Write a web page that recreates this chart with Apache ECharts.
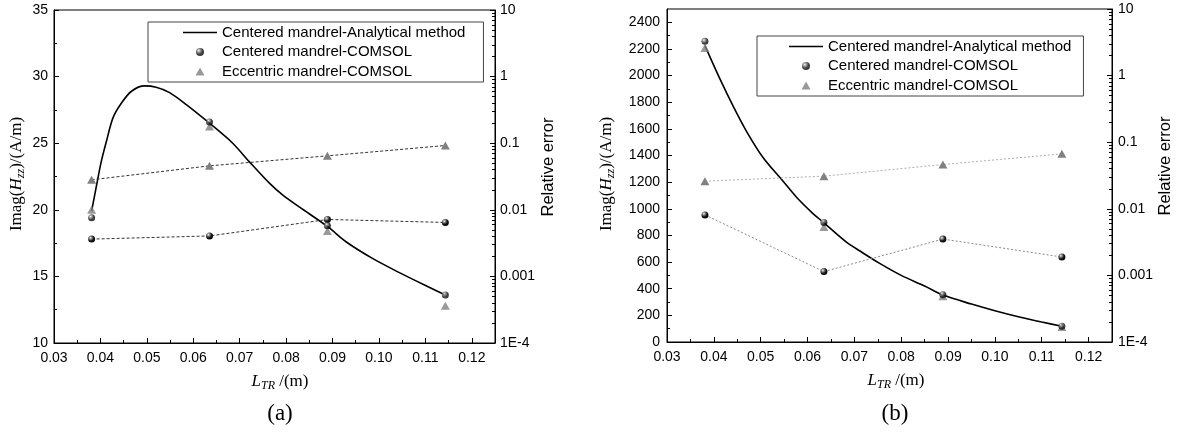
<!DOCTYPE html>
<html><head><meta charset="utf-8">
<script src="https://cdn.jsdelivr.net/npm/echarts@6/dist/echarts.min.js"></script>
<style>html,body{margin:0;padding:0;background:#fff}#c{width:1177px;height:433px}</style>
</head><body><div id="c"></div>
<script>
const SANS = 'Liberation Sans, Arial, sans-serif';
const SERIF = 'Liberation Serif, Times New Roman, serif';

// ---------- data ----------
const seriesNames = ['Centered mandrel-Analytical method', 'Centered mandrel-COMSOL', 'Eccentric mandrel-COMSOL'];
const xPoints = [0.0381, 0.0635, 0.0889, 0.1143];
const xTickValues = [0.03, 0.04, 0.05, 0.06, 0.07, 0.08, 0.09, 0.10, 0.11, 0.12];
const xMinorValues = [0.035, 0.045, 0.055, 0.065, 0.075, 0.085, 0.095, 0.105, 0.115];
const logTickLabels = ['1E-4', '0.001', '0.01', '0.1', '1', '10'];

// (a)
const aCurveX = [0.0381,0.0392,0.0402,0.0413,0.0427,0.0445,0.0467,0.0495,0.0520,0.0549,0.0585,0.0635,0.0685,0.0721,0.0764,0.0793,0.0829,0.0889,0.0929,0.0986,0.1043,0.1107,0.1143];
const aCurveY = [19.9,21.9,23.65,25.15,26.9,28.0,28.9,29.3,29.2,28.8,27.9,26.5,25.0,23.6,22.0,21.1,20.2,18.75,17.6,16.35,15.3,14.2,13.6];
const aCenteredVal = [19.4, 26.6, 18.8, 13.6];
const aEccentricVal = [20.0, 26.25, 18.4, 12.8];
const aCenteredErr = [0.00363, 0.00405, 0.00716, 0.00646];
const aEccentricErr = [0.0282, 0.0457, 0.0646, 0.0923];
const aYTicks = [10, 15, 20, 25, 30, 35];
const aYMinor = [12.5, 17.5, 22.5, 27.5, 32.5];

// (b)
const bCurveX = [0.0381,0.0413,0.0442,0.0470,0.0505,0.0547,0.0577,0.0610,0.0635,0.0683,0.0711,0.0754,0.0800,0.0850,0.0889,0.0950,0.1000,0.1050,0.1100,0.1143];
const bCurveY = [2225,1975,1765,1580,1385,1210,1085,970,895,750,685,590,500,420,352,285,235,190,150,118];
const bCenteredVal = [2257, 898, 355, 118];
const bEccentricVal = [2207, 863, 343, 113];
const bCenteredErr = [0.0081, 0.00114, 0.00351, 0.00189];
const bEccentricErr = [0.026, 0.0309, 0.0462, 0.0668];
const bYTicks = [0,200,400,600,800,1000,1200,1400,1600,1800,2000,2200,2400];
const bYMinor = [100,300,500,700,900,1100,1300,1500,1700,1900,2100,2300];

// log minor tick positions (in log10 space)
const logMinor = [];
for (let n = -4; n < 1; n++) for (let k = 2; k <= 9; k++) logMinor.push(n + Math.log10(k));

const pairs = (xs, ys) => xs.map((x, i) => [x, ys[i]]);

const ball = {type:'radial', x:0.35, y:0.32, r:0.75, colorStops:[
  {offset:0, color:'#f4f4f4'}, {offset:0.25, color:'#8a8a8a'}, {offset:0.6, color:'#151515'}, {offset:1, color:'#000'}]};
const triColor = '#808080';

const grids = [
  {left:54, top:10, width:441, height:333},
  {left:667, top:9, width:445, height:333}
];

function mainX(gi) {
  return {type:'value', gridIndex:gi, min:0.03, max:0.125,
    axisLine:{show:true, onZero:false, lineStyle:{color:'#000', width:1}},
    axisTick:{show:true, inside:true, length:5, lineStyle:{color:'#000'}, customValues:xTickValues},
    axisLabel:{show:true, customValues:xTickValues, formatter:v=>v.toFixed(2), color:'#000', fontFamily:SANS, fontSize:14, margin:8},
    splitLine:{show:false}};
}
function minorX(gi) {
  return {type:'value', gridIndex:gi, min:0.03, max:0.125, position:'bottom',
    axisLine:{show:false, onZero:false}, axisLabel:{show:false}, splitLine:{show:false},
    axisTick:{show:true, inside:true, length:3, lineStyle:{color:'#000'}, customValues:xMinorValues}};
}
function leftY(gi, min, max, ticks, margin) {
  return {type:'value', gridIndex:gi, position:'left', min:min, max:max,
    axisLine:{show:true, onZero:false, lineStyle:{color:'#000'}},
    axisTick:{show:true, inside:true, length:5, lineStyle:{color:'#000'}, customValues:ticks},
    axisLabel:{show:true, customValues:ticks, formatter:v=>String(v), color:'#000', fontFamily:SANS, fontSize:14, margin:margin},
    splitLine:{show:false}};
}
function minorY(gi, pos, min, max, ticks) {
  return {type:'value', gridIndex:gi, position:pos, min:min, max:max,
    axisLine:{show:false, onZero:false}, axisLabel:{show:false}, splitLine:{show:false},
    axisTick:{show:true, inside:true, length:3, lineStyle:{color:'#000'}, customValues:ticks}};
}
function logY(gi, margin) {
  return {type:'log', logBase:10, gridIndex:gi, position:'right', min:1e-4, max:10,
    axisLine:{show:true, onZero:false, lineStyle:{color:'#000'}},
    axisTick:{show:true, inside:true, length:5, lineStyle:{color:'#000'}},
    axisLabel:{show:true, color:'#000', fontFamily:SANS, fontSize:14, margin:margin,
      formatter:v=>{ const e = Math.round(Math.log10(v)); return logTickLabels[e + 4]; }},
    splitLine:{show:false}, minorTick:{show:false}};
}

function chartSeries(xi, yl, yr, curveX, curveY, cVal, eVal, cErr, eErr, cErrLine, eErrLine) {
  return [
    {name:seriesNames[0], type:'line', xAxisIndex:xi, yAxisIndex:yl, data:pairs(curveX, curveY),
      smooth:0.3, symbol:'none', showSymbol:false, lineStyle:{color:'#000', width:1.6}, itemStyle:{color:'#000'}, z:2},
    {name:'err-c-'+xi, type:'line', xAxisIndex:xi, yAxisIndex:yr, data:pairs(xPoints, cErr),
      symbol:'circle', symbolSize:7, showSymbol:true, itemStyle:{color:ball}, lineStyle:cErrLine, z:4},
    {name:'err-e-'+xi, type:'line', xAxisIndex:xi, yAxisIndex:yr, data:pairs(xPoints, eErr),
      symbol:'triangle', symbolSize:[9,8], showSymbol:true, itemStyle:{color:triColor}, lineStyle:eErrLine, z:3},
    {name:seriesNames[2], type:'scatter', xAxisIndex:xi, yAxisIndex:yl, data:pairs(xPoints, eVal),
      symbol:'triangle', symbolSize:[9,8], symbolKeepAspect:true, itemStyle:{color:triColor}, z:3},
    {name:seriesNames[1], type:'scatter', xAxisIndex:xi, yAxisIndex:yl, data:pairs(xPoints, cVal),
      symbol:'circle', symbolSize:7, itemStyle:{color:ball}, z:5}
  ];
}

function legend(left, top, padding) {
  return {left:left, top:top, orient:'vertical', itemWidth:34, itemHeight:8, itemGap:4.5,
    padding:padding, borderColor:'#444', borderWidth:1, selectedMode:false, symbolKeepAspect:true,
    data:[
      {name:seriesNames[0], icon:'path://M0,0H40V2H0Z', itemStyle:{color:'#000'}},
      {name:seriesNames[1], icon:'circle'},
      {name:seriesNames[2], icon:'path://M4.5,0L9,8L0,8Z', itemStyle:{color:triColor}}
    ],
    textStyle:{fontFamily:SANS, fontSize:15, color:'#000'}};
}

const richTitle = {
  r:{fontFamily:SERIF, fontSize:17, fill:'#000', lineHeight:19},
  i:{fontFamily:SERIF, fontSize:17, fontStyle:'italic', fill:'#000', lineHeight:19},
  s:{fontFamily:SERIF, fontSize:12, fontStyle:'italic', fill:'#000', lineHeight:19, verticalAlign:'bottom', padding:[7,0,0,0]}
};
function txt(x, y, text, rot, font, size, rich) {
  const o = {type:'text', x:x, y:y, rotation:rot||0, z:10,
    style:{text:text, fontFamily:font, fontSize:size, fill:'#000', align:'center', verticalAlign:'middle'}};
  if (rich) o.style.rich = rich;
  return o;
}

const option = {
  animation:false,
  backgroundColor:'#fff',
  grid:[
    Object.assign({show:true, borderColor:'#000', borderWidth:1, backgroundColor:'transparent'}, grids[0]),
    Object.assign({show:true, borderColor:'#000', borderWidth:1, backgroundColor:'transparent'}, grids[1]),
    Object.assign({show:false}, grids[0]),
    Object.assign({show:false}, grids[1])
  ],
  xAxis:[mainX(0), mainX(1), minorX(2), minorX(3)],
  yAxis:[
    leftY(0, 10, 35, aYTicks, 6), logY(0, 5),
    leftY(1, 0, 2500, bYTicks, 7), logY(1, 6),
    minorY(2, 'left', 10, 35, aYMinor), minorY(2, 'right', -4, 1, logMinor),
    minorY(3, 'left', 0, 2500, bYMinor), minorY(3, 'right', -4, 1, logMinor)
  ],
  legend:[legend(148, 22, [3, 18, 3, 35]), legend(757, 36, [3, 12, 3, 32])],
  series:[].concat(
    chartSeries(0, 0, 1, aCurveX, aCurveY, aCenteredVal, aEccentricVal, aCenteredErr, aEccentricErr,
      {color:'#333', width:1, type:[3,2]}, {color:'#333', width:1, type:[3,2]}),
    chartSeries(1, 2, 3, bCurveX, bCurveY, bCenteredVal, bEccentricVal, bCenteredErr, bEccentricErr,
      {color:'#8a8a8a', width:1, type:[2,2]}, {color:'#b0b0b0', width:1, type:[2,2]})
  ),
  graphic:[
    txt(17, 174, '{r|Imag(}{i|H}{s|zz}{r|)/(A/m)}', Math.PI/2, SERIF, 17, richTitle),
    txt(548, 167, 'Relative error', Math.PI/2, SANS, 16.5),
    txt(280, 382, '{i|L}{s|TR}{r| /(m)}', 0, SERIF, 17, richTitle),
    txt(280, 414, '(a)', 0, SERIF, 23),
    txt(607, 174, '{r|Imag(}{i|H}{s|zz}{r|)/(A/m)}', Math.PI/2, SERIF, 17, richTitle),
    txt(1165, 166, 'Relative error', Math.PI/2, SANS, 16.5),
    txt(896, 381, '{i|L}{s|TR}{r| /(m)}', 0, SERIF, 17, richTitle),
    txt(895, 414, '(b)', 0, SERIF, 23)
  ]
};

const chart = echarts.init(document.getElementById('c'), null, {renderer:'canvas'});
chart.setOption(option);
</script>
</body></html>
